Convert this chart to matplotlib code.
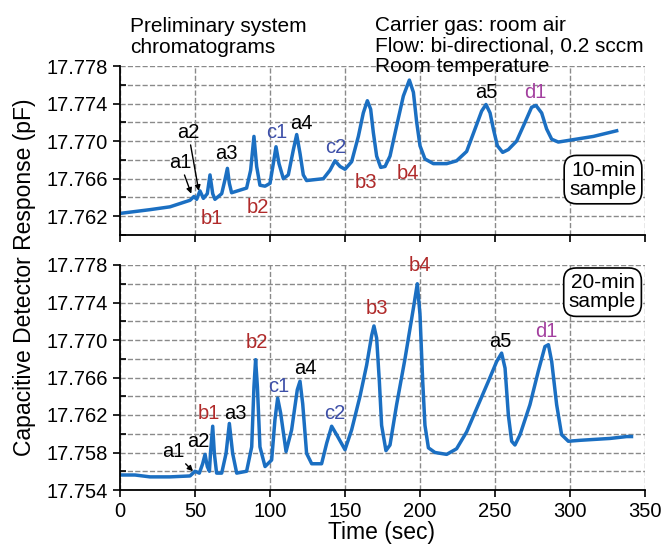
import matplotlib
matplotlib.use("Agg")
import matplotlib.pyplot as plt
from matplotlib.ticker import MultipleLocator, FixedLocator, FormatStrFormatter

plt.rcParams['font.family'] = ['Liberation Sans', 'DejaVu Sans']

# 10-min sample trace (time in s, response in pF)
t_10 = [0, 10, 20, 33.3, 46.7, 49.3, 51.1, 53.3, 55.6, 58.2, 60, 61.8, 63.3,
        67.8, 70, 71.6, 72.9, 74.4, 84.4, 87.1, 89.3, 91.1, 93.3, 96.7, 100,
        102.2, 104, 106, 108.9, 112.2, 115.6, 117.8, 120, 122.2, 124.4, 135.6,
        140, 143.3, 146.7, 150, 154.4, 158.9, 162.2, 164.9, 167.1, 168.9, 171.1,
        173.8, 176.7, 180, 184.4, 188.9, 192.9, 195.6, 197.8, 200, 203.3, 208.9,
        217.8, 224.4, 231.1, 236.7, 241.1, 244, 246.7, 248.9, 251.6, 255.1,
        258.9, 264.4, 270, 274.4, 277.3, 281.1, 284.4, 287.8, 292.2, 300, 315.6,
        331.1]
v_10 = [17.7623, 17.7625, 17.7627, 17.7630, 17.7637, 17.7641, 17.7638, 17.7647,
        17.7639, 17.7644, 17.7664, 17.7644, 17.7638, 17.7644, 17.7659, 17.7671,
        17.7655, 17.7645, 17.7650, 17.7669, 17.7705, 17.7673, 17.7653, 17.7652,
        17.7655, 17.7676, 17.7694, 17.7676, 17.7660, 17.7664, 17.7691, 17.7707,
        17.7687, 17.7664, 17.7658, 17.7660, 17.7669, 17.7679, 17.7673, 17.7670,
        17.7678, 17.7705, 17.7730, 17.7743, 17.7734, 17.7709, 17.7684, 17.7672,
        17.7673, 17.7684, 17.7716, 17.7748, 17.7765, 17.7752, 17.7720, 17.7695,
        17.7681, 17.7676, 17.7676, 17.7679, 17.7689, 17.7713, 17.7732, 17.7739,
        17.7730, 17.7713, 17.7695, 17.7688, 17.7691, 17.7700, 17.7720, 17.7736,
        17.7738, 17.7730, 17.7713, 17.7702, 17.7699, 17.7701, 17.7705, 17.7711]

# 20-min sample trace
t_20 = [0, 10, 20, 33.3, 46.7, 50, 52.9, 55.1, 56.7, 58.2, 59.6, 60.4, 61.8,
        62.9, 64.4, 67.8, 70.7, 72.9, 75.1, 77.8, 84.4, 87.8, 89.3, 90.4, 91.6,
        93.3, 96.7, 101.1, 103.3, 105.1, 107.1, 110.7, 114.4, 118.2, 120, 121.8,
        124.4, 127.8, 134.4, 137.8, 141.1, 144.4, 150, 154.4, 160, 164.4, 167.8,
        169.3, 171.1, 172.9, 174.4, 177.3, 180, 184.4, 190, 195.6, 198.2, 200,
        201.8, 203.3, 205.6, 210, 217.8, 224.4, 231.1, 237.8, 245.6, 251.1,
        254.4, 256.7, 258.9, 261.1, 263.3, 266.7, 273.3, 278.9, 283.3, 285.6,
        287.8, 291.1, 294.4, 298.9, 306.7, 326.7, 337.8, 341]
v_20 = [17.7556, 17.7556, 17.7554, 17.7554, 17.7555, 17.7560, 17.7558, 17.7568,
        17.7578, 17.7565, 17.7560, 17.7581, 17.7608, 17.7579, 17.7558, 17.7558,
        17.7579, 17.7611, 17.7579, 17.7558, 17.7560, 17.7586, 17.7650, 17.7679,
        17.7650, 17.7586, 17.7565, 17.7572, 17.7615, 17.7638, 17.7622, 17.7581,
        17.7604, 17.7647, 17.7656, 17.7632, 17.7579, 17.7568, 17.7568, 17.7590,
        17.7608, 17.7599, 17.7583, 17.7604, 17.7640, 17.7673, 17.7705, 17.7715,
        17.7702, 17.7656, 17.7609, 17.7582, 17.7588, 17.7631, 17.7680, 17.7734,
        17.7760, 17.7727, 17.7656, 17.7609, 17.7585, 17.7580, 17.7578, 17.7584,
        17.7602, 17.7627, 17.7656, 17.7677, 17.7686, 17.7670, 17.7620, 17.7592,
        17.7588, 17.7599, 17.7631, 17.7667, 17.7693, 17.7695, 17.7677, 17.7631,
        17.7599, 17.7592, 17.7593, 17.7595, 17.7597, 17.7597]

ticks_10 = [17.762, 17.766, 17.770, 17.774, 17.778]
ticks_20 = [17.754, 17.758, 17.762, 17.766, 17.770, 17.774, 17.778]

# peak labels: (text, time, response, colour key)
labels_10 = [("a3", 71.1, 17.7687, "a"), ("b1", 61.1, 17.7618, "b"),
             ("b2", 91.8, 17.7629, "b"), ("c1", 104.4, 17.7709, "c"),
             ("a4", 121.1, 17.7719, "a"), ("c2", 143.8, 17.7693, "c"),
             ("b3", 164.0, 17.7656, "b"), ("b4", 192.0, 17.7666, "b"),
             ("a5", 244.4, 17.7752, "a"), ("d1", 276.7, 17.7752, "d")]
labels_20 = [("a2", 52.2, 17.7592, "a"), ("b1", 59.5, 17.7622, "b"),
             ("a3", 76.7, 17.7622, "a"), ("b2", 91.1, 17.7697, "b"),
             ("c1", 105.6, 17.7650, "c"), ("a4", 123.3, 17.7670, "a"),
             ("c2", 143.3, 17.7622, "c"), ("b3", 171.1, 17.7734, "b"),
             ("b4", 200.0, 17.7779, "b"), ("a5", 253.3, 17.7698, "a"),
             ("d1", 284.4, 17.7709, "d")]

colors = {"a": "black", "b": "#b02a2a", "c": "#3d4fa8", "d": "#a3409f"}
line_color = "#1b6fc2"

fig = plt.figure(figsize=(6.62, 5.44), dpi=100)
W, H = 662, 544
ax1 = fig.add_axes([120 / W, 1 - 235 / H, 525 / W, 169 / H])
ax2 = fig.add_axes([120 / W, 1 - 490 / H, 525 / W, 225 / H])


def style(ax, ymin, yticks):
    ax.set_xlim(0, 350)
    ax.set_ylim(ymin, 17.778)
    ax.xaxis.set_major_locator(MultipleLocator(50))
    ax.yaxis.set_major_locator(FixedLocator(yticks))
    ax.yaxis.set_minor_locator(MultipleLocator(0.002))
    ax.yaxis.set_major_formatter(FormatStrFormatter('%.3f'))
    ax.grid(True, which='both', ls='--', color='#8a8a8a', lw=1)
    ax.spines['top'].set_visible(False)
    ax.spines['right'].set_visible(False)
    ax.spines['left'].set_linewidth(1.3)
    ax.spines['bottom'].set_linewidth(1.3)
    ax.tick_params(axis='both', which='major', direction='out', length=5,
                   width=1.2, labelsize=14.5)
    ax.tick_params(axis='y', which='minor', direction='in', length=4, width=1.2)
    ax.set_axisbelow(True)


style(ax1, 17.760, ticks_10)
style(ax2, 17.754, ticks_20)
ax1.tick_params(axis='x', labelbottom=False)

ax1.plot(t_10, v_10, color=line_color, lw=2.5, solid_joinstyle='round')
ax2.plot(t_20, v_20, color=line_color, lw=2.5, solid_joinstyle='round')

for ax, labs in [(ax1, labels_10), (ax2, labels_20)]:
    for txt, x, y, k in labs:
        ax.text(x, y, txt, color=colors[k], fontsize=14.5, ha='center',
                va='center', clip_on=False)

# arrowed labels
arrow = dict(arrowstyle='-|>', color='black', lw=1, mutation_scale=8,
             shrinkA=0, shrinkB=0)
ax1.annotate("a1", xy=(47.5, 17.7644), xytext=(40, 17.7677), fontsize=14.5,
             ha='center', va='center', arrowprops=arrow)
ax1.annotate("a2", xy=(52.5, 17.7647), xytext=(45.6, 17.7709), fontsize=14.5,
             ha='center', va='center', arrowprops=arrow)
ax2.annotate("a1", xy=(48.7, 17.7560), xytext=(35.6, 17.7581), fontsize=14.5,
             ha='center', va='center', arrowprops=arrow)

box = dict(boxstyle='round,pad=0.25,rounding_size=0.6', fc='white', ec='black',
           lw=1.2)
ax1.text(322, 17.7659, "10-min\nsample", fontsize=15, ha='center', va='center',
         linespacing=1.0, bbox=box)
ax2.text(321.7, 17.7751, "20-min\nsample", fontsize=15, ha='center', va='center',
         linespacing=1.0, bbox=box)

fig.text(130 / W, 1 - 17 / H, "Preliminary system\nchromatograms", fontsize=15,
         ha='left', va='top', linespacing=1.15)
fig.text(375 / W, 1 - 16 / H, "Carrier gas: room air\nFlow: bi-directional, 0.2 sccm\nRoom temperature",
         fontsize=15, ha='left', va='top', linespacing=1.1)

fig.text(25 / W, 1 - 277 / H, "Capacitive Detector Response (pF)", fontsize=16.5,
         rotation=90, ha='center', va='center')
fig.text(382 / W, 1 - 532 / H, "Time (sec)", fontsize=16.5, ha='center',
         va='center')

fig.savefig("out.png", dpi=100)
